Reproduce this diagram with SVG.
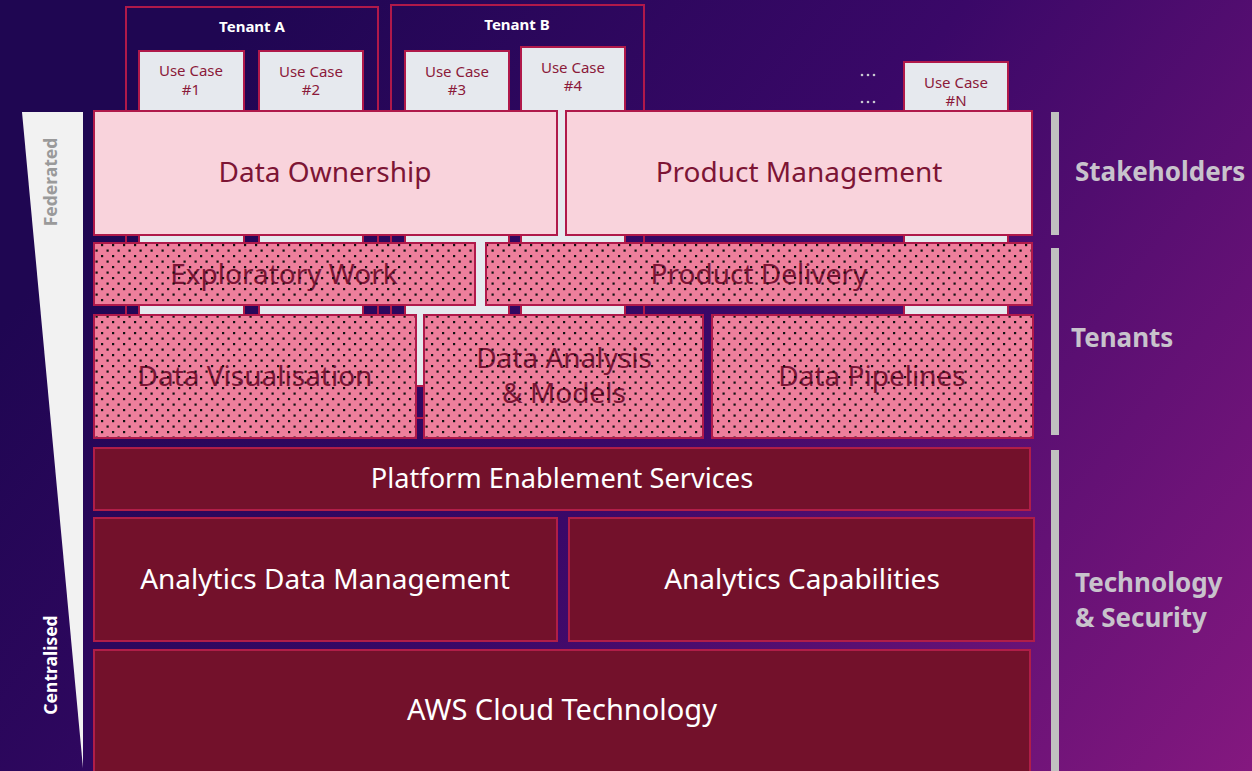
<svg xmlns="http://www.w3.org/2000/svg" width="1252" height="771" viewBox="0 0 1252 771">
  <defs>
    <linearGradient id="bg" gradientUnits="userSpaceOnUse" x1="250" y1="0" x2="1252" y2="771">
      <stop offset="0" stop-color="#1f0652"/>
      <stop offset="0.45" stop-color="#3a0868"/>
      <stop offset="1" stop-color="#84187f"/>
    </linearGradient>
    <!-- dot screen laid over the tenant-layer boxes and their labels -->
    <pattern id="dots" width="11" height="11" patternUnits="userSpaceOnUse">
      <rect x="2" y="2" width="2.2" height="2.2" fill="#111"/>
      <rect x="7.5" y="7.5" width="2.2" height="2.2" fill="#111"/>
    </pattern>
    <style>
      .tenant { fill: none; stroke: #b0194a; stroke-width: 2; }
      .usecase { fill: #e6e9ee; stroke: #b0194a; stroke-width: 2; }
      .uctext { font-family: "Noto Sans", "Liberation Sans", sans-serif; font-size: 15px; fill: #8b1a3a; text-anchor: middle; }
      .tname { font-family: "Noto Sans", "Liberation Sans", sans-serif; font-size: 15px; font-weight: bold; fill: #ffffff; text-anchor: middle; }
      .light { fill: #f9d3dc; stroke: #b0194a; stroke-width: 2; }
      .pink { fill: #ee7f9c; stroke: #b0194a; stroke-width: 2; }
      .screen { fill: url(#dots); stroke: #b0194a; stroke-width: 2; }
      .dark { fill: #73112b; stroke: #b01e48; stroke-width: 2; }
      .ltext { font-family: "Noto Sans", "Liberation Sans", sans-serif; font-size: 28px; fill: #7d1535; text-anchor: middle; }
      .dtext { font-family: "Noto Sans", "Liberation Sans", sans-serif; font-size: 28px; fill: #7a1535; text-anchor: middle; }
      .wtext { font-family: "Noto Sans", "Liberation Sans", sans-serif; font-size: 28px; fill: #ffffff; text-anchor: middle; }
      .side { font-family: "Noto Sans", "Liberation Sans", sans-serif; font-size: 26px; font-weight: bold; fill: #c8c3cc; }
      .bar { fill: #c0c0c0; }
      .axis { font-family: "Noto Sans", "Liberation Sans", sans-serif; font-size: 17.5px; font-weight: bold; text-anchor: middle; }
    </style>
  </defs>

  <!-- background -->
  <rect width="1252" height="771" fill="url(#bg)"/>

  <!-- federated / centralised wedge -->
  <g id="scale">
    <polygon points="22,112 83,112 83,768" fill="#f2f2f2"/>
    <text class="axis" fill="#9a9a9a" transform="translate(57,182) rotate(-90)">Federated</text>
    <text class="axis" fill="#ffffff" transform="translate(57,665) rotate(-90)">Centralised</text>
  </g>

  <!-- tenants and their use cases (columns run behind the layers) -->
  <g id="tenant-a">
    <rect class="tenant" x="126" y="7" width="252" height="411"/>
    <text class="tname" x="252" y="32">Tenant A</text>
  </g>
  <g id="tenant-b">
    <rect class="tenant" x="391" y="5" width="253" height="413"/>
    <text class="tname" x="517" y="30">Tenant B</text>
  </g>
  <g id="use-case-1">
    <rect class="usecase" x="139" y="51" width="105" height="340"/>
    <text class="uctext" x="191" y="76">Use Case</text>
    <text class="uctext" x="191" y="95">#1</text>
  </g>
  <g id="use-case-2">
    <rect class="usecase" x="259" y="51" width="104" height="340"/>
    <text class="uctext" x="311" y="77">Use Case</text>
    <text class="uctext" x="311" y="95">#2</text>
  </g>
  <g id="use-case-3">
    <rect class="usecase" x="405" y="51" width="104" height="335"/>
    <text class="uctext" x="457" y="77">Use Case</text>
    <text class="uctext" x="457" y="95">#3</text>
  </g>
  <g id="use-case-4">
    <rect class="usecase" x="521" y="47" width="104" height="344"/>
    <text class="uctext" x="573" y="73">Use Case</text>
    <text class="uctext" x="573" y="91">#4</text>
  </g>
  <g id="use-case-n">
    <rect class="usecase" x="904" y="62" width="104" height="329"/>
    <text class="uctext" x="956" y="88">Use Case</text>
    <text class="uctext" x="956" y="106">#N</text>
  </g>
  <g id="more-use-cases" fill="#c8c8d0">
    <circle cx="862" cy="75" r="1.3"/><circle cx="868" cy="75" r="1.3"/><circle cx="874" cy="75" r="1.3"/>
    <circle cx="862" cy="102" r="1.3"/><circle cx="868" cy="102" r="1.3"/><circle cx="874" cy="102" r="1.3"/>
  </g>

  <!-- stakeholder layer -->
  <g id="data-ownership">
    <rect class="light" x="94" y="111" width="463" height="124"/>
    <text class="ltext" x="325" y="182">Data Ownership</text>
  </g>
  <g id="product-management">
    <rect class="light" x="566" y="111" width="466" height="124"/>
    <text class="ltext" x="799" y="182">Product Management</text>
  </g>

  <!-- tenant layer: pink box, label, then the dot screen on top -->
  <g id="exploratory-work">
    <rect class="pink" x="94" y="243" width="381" height="62"/>
    <text class="dtext" x="284" y="284">Exploratory Work</text>
    <rect class="screen" x="94" y="243" width="381" height="62"/>
  </g>
  <g id="product-delivery">
    <rect class="pink" x="486" y="243" width="546" height="62"/>
    <text class="dtext" x="759" y="284">Product Delivery</text>
    <rect class="screen" x="486" y="243" width="546" height="62"/>
  </g>
  <g id="data-visualisation">
    <rect class="pink" x="94" y="315" width="322" height="123"/>
    <text class="dtext" x="255" y="386">Data Visualisation</text>
    <rect class="screen" x="94" y="315" width="322" height="123"/>
  </g>
  <g id="data-analysis">
    <rect class="pink" x="424" y="315" width="279" height="123"/>
    <text class="dtext" x="564" y="368">Data Analysis</text>
    <text class="dtext" x="564" y="403">&amp; Models</text>
    <rect class="screen" x="424" y="315" width="279" height="123"/>
  </g>
  <g id="data-pipelines">
    <rect class="pink" x="712" y="315" width="321" height="123"/>
    <text class="dtext" x="872" y="386">Data Pipelines</text>
    <rect class="screen" x="712" y="315" width="321" height="123"/>
  </g>

  <!-- technology layer -->
  <g id="platform-enablement">
    <rect class="dark" x="94" y="448" width="936" height="62"/>
    <text class="wtext" x="562" y="488" style="font-size:27.2px">Platform Enablement Services</text>
  </g>
  <g id="analytics-data-management">
    <rect class="dark" x="94" y="518" width="463" height="123"/>
    <text class="wtext" x="325" y="589">Analytics Data Management</text>
  </g>
  <g id="analytics-capabilities">
    <rect class="dark" x="569" y="518" width="465" height="123"/>
    <text class="wtext" x="802" y="589">Analytics Capabilities</text>
  </g>
  <g id="aws-cloud">
    <rect class="dark" x="94" y="650" width="936" height="130"/>
    <text class="wtext" x="562" y="720" style="font-size:29px">AWS Cloud Technology</text>
  </g>

  <!-- layer labels -->
  <g id="layer-labels">
    <rect class="bar" x="1051" y="112" width="8" height="123"/>
    <rect class="bar" x="1051" y="248" width="8" height="187"/>
    <rect class="bar" x="1051" y="450" width="8" height="321"/>
    <text class="side" x="1075" y="181">Stakeholders</text>
    <text class="side" x="1071" y="347">Tenants</text>
    <text class="side" x="1075" y="592">Technology</text>
    <text class="side" x="1075" y="627">&amp; Security</text>
  </g>
</svg>
